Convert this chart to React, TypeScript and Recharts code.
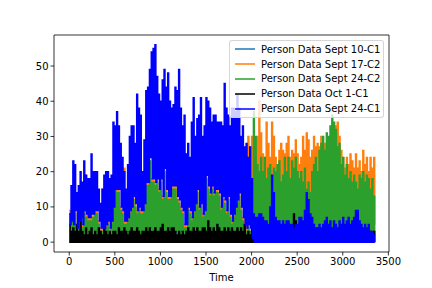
import { Legend, Line, LineChart, ReferenceLine, XAxis, YAxis } from "recharts";

const step = 20;

const sept10High = [3,4,3,2,3,2,3,2,3,3,2,3,2,3,2,3,2,2,3,2,3,2,3,2,3,2,3,2,2,3,2,3,2,3,2,3,2,3,2,3,3,4,3,3,4,3,3,2,3,3,4,3,3,2,3,3,4,3,3,2,3,3,2,4,3,3,2,3,3,2,3,4,3,2,3,3,2,3,3,4,3,2,3,3,2,3,3,4,3,3,2,3,3,4,4,5,4,3,4,3];
const sept10Low = [0,1,0,0,1,0,1,0,0,1,0,0,1,0,1,0,0,1,0,0,1,0,0,1,0,1,0,0,1,0,1,0,0,1,0,0,1,0,1,0,0,1,0,1,0,0,1,0,0,1,0,1,0,0,1,0,0,1,0,1,0,0,1,0,0,1,0,1,0,0,1,0,0,1,0,1,0,0,1,0,0,1,0,1,0,0,1,0,0,1,0,1,0,0,1,0,0,1,0,0];

const sept17High = [9,9,8,9,5,6,7,5,9,19,10,7,7,8,9,9,6,4,15,4,5,6,4,6,10,16,19,15,10,9,21,6,7,9,10,13,11,9,10,9,9,11,17,17,23,18,25,17,18,15,18,13,21,19,13,13,16,16,16,18,12,10,9,5,5,10,9,7,9,11,15,10,11,8,9,19,16,14,16,14,15,15,14,10,13,12,9,13,8,6,8,10,12,14,10,7,20,24,30,27,30,26,28,30,40,31,25,24,34,28,24,34,30,24,22,26,28,26,25,28,30,24,26,25,29,25,22,24,30,26,31,29,24,26,30,27,28,27,30,26,28,27,26,27,30,28,33,34,30,26,24,21,24,22,25,23,21,25,21,23,20,26,22,24,20,24,21,24];
const sept17Low = [1,2,1,2,1,2,1,2,2,3,2,1,2,2,1,2,1,1,2,1,1,2,1,2,2,3,2,3,2,2,1,2,1,2,2,3,2,2,3,2,3,2,4,3,4,3,4,3,4,3,4,3,4,3,3,4,3,3,4,3,2,2,3,2,2,3,2,2,3,3,4,3,2,3,3,4,3,3,4,3,3,2,3,3,2,3,2,3,2,2,3,2,3,2,2,3,2,3,4,6,8,7,9,7,10,8,9,7,6,9,8,10,7,9,8,7,10,8,9,6,8,10,7,9,8,10,9,7,8,10,9,7,8,6,9,5,8,7,4,6,8,10,9,12,8,10,9,7,11,8,9,6,8,7,9,6,8,7,9,6,8,7,6,8,7,6,8,5];

const sept24C2High = [8,8,7,8,4,5,6,4,8,7,6,6,6,7,8,8,5,3,3,3,4,5,3,5,9,15,14,14,9,8,5,5,6,8,9,12,10,8,9,8,8,10,16,16,23,17,17,16,17,14,17,12,20,14,12,12,15,15,15,12,11,9,8,4,4,9,8,6,8,10,14,9,10,7,8,18,15,13,15,13,14,14,13,9,12,11,8,12,7,5,7,9,11,13,9,6,4,3,4,3,15,37,30,22,20,24,20,24,18,21,22,18,21,20,22,23,17,19,24,20,24,18,23,21,24,20,18,20,17,21,15,17,14,20,22,24,20,26,28,30,26,31,30,33,36,34,32,27,28,22,24,19,22,18,20,17,19,17,15,19,18,20,17,19,18,15,18,13];
const sept24C2Low = [0,1,1,2,1,1,2,1,1,2,1,1,2,1,1,2,1,1,1,2,1,1,2,1,2,2,1,2,1,2,1,1,2,1,2,1,2,1,2,2,3,2,3,3,4,3,3,2,3,3,2,3,3,2,3,3,2,3,3,2,2,3,2,2,3,2,2,3,2,3,3,2,3,2,3,3,2,3,3,2,3,2,3,2,3,2,3,2,3,2,3,2,3,2,2,3,2,1,2,1,2,3,3,2,3,3,2,3,3,2,3,3,2,3,3,2,3,3,2,3,3,2,3,3,2,3,3,2,3,3,2,3,3,2,3,3,4,3,3,4,3,2,3,2,3,3,2,3,3,2,3,3,2,3,3,2,3,3,2,3,3,2,3,3,2,3,2,2];

const oct1High = [5,3,4,3,5,3,8,3,2,4,2,3,4,2,3,2,4,3,2,6,3,2,3,2,3,3,2,4,3,3,4,3,2,3,4,3,3,4,3,2,3,3,4,3,4,3,3,4,3,3,4,5,3,3,4,3,4,4,3,2,3,2,3,2,3,4,3,3,4,3,4,3,3,4,4,3,6,4,3,4,3,5,4,3,3,4,3,4,3,4,3,3,4,3,4,3,5,2,3,2,4,2,3,2,3,2,3,2,4,3,2,3,3,6,3,2,3,3,2,3,4,2,3,8,6,3,2,3,3,2,4,5,3,3,2,3,4,2,3,3,2,3,3,4,3,2,3,2,4,3,3,2,3,3,2,3,2,3,3,2,3,2,3,3,2,3,2,3];
const oct1Low = [0,0,0,0,0,0,0,0,0,0,0,0,0,0,0,0,0,0,0,0,0,0,0,0,0,0,0,0,0,0,0,0,0,0,0,0,0,0,0,0,0,0,0,0,0,0,0,0,0,0,0,0,0,0,0,0,0,0,0,0,0,0,0,0,0,0,0,0,0,0,0,0,0,0,0,0,0,0,0,0,0,0,0,0,0,0,0,0,0,0,0,0,0,0,0,0,0,0,0,0,0,0,0,0,0,0,0,0,0,0,0,0,0,0,0,0,0,0,0,0,0,0,0,0,0,0,0,0,0,0,0,0,0,0,0,0,0,0,0,0,0,0,0,0,0,0,0,0,0,0,0,0,0,0,0,0,0,0,0,0,0,0,0,0,0,0,0,0];

const sept24C1High = [8,16,23,22,14,16,20,17,23,19,18,18,25,20,20,20,15,11,15,19,20,20,18,19,34,33,37,33,28,24,20,15,22,30,33,33,28,42,38,36,20,29,43,44,49,54,55,56,47,42,40,46,49,44,48,40,38,39,44,43,49,38,33,36,25,28,24,34,41,30,35,36,41,30,33,41,40,38,34,36,36,34,34,34,33,45,38,36,33,38,38,37,42,38,30,33,27,28,24,27,18,8,7,7,8,8,7,6,6,5,10,19,14,7,6,6,5,6,5,6,6,5,5,4,5,5,7,7,6,9,14,12,8,7,5,4,4,5,4,5,6,7,5,6,4,6,5,4,6,5,7,5,6,7,5,6,7,9,9,6,5,4,5,4,5,3,3,2];
const sept24C1Low = [5,6,5,9,4,6,7,5,9,8,7,7,8,8,9,9,6,4,4,4,5,6,4,6,10,15,15,15,10,9,6,6,7,9,10,13,11,9,10,9,9,11,17,17,24,18,18,17,18,15,18,13,21,15,13,13,16,16,16,13,12,10,9,5,5,10,9,7,9,11,15,10,11,8,9,19,16,14,16,14,15,15,14,10,13,12,9,13,8,6,8,10,12,14,10,7,5,4,5,4,1,0,0,0,0,0,0,0,0,0,0,0,0,0,0,0,0,0,0,0,0,0,0,0,0,0,0,0,0,0,0,0,0,0,0,0,0,0,0,0,0,0,0,0,0,0,0,0,0,0,0,0,0,0,0,0,0,0,0,0,0,0,0,0,0,0,0,0];

const xTicks = [0, 500, 1000, 1500, 2000, 2500, 3000, 3500];
const yTicks = [0, 10, 20, 30, 40, 50];
const xDomain = [-167, 3507];
const yDomain = [-2.8, 58.8];

const series = [
  { key: "sept10", name: "Person Data Sept 10-C1", color: "#1f77b4", high: sept10High, low: sept10Low },
  { key: "sept17", name: "Person Data Sept 17-C2", color: "#ff7f0e", high: sept17High, low: sept17Low },
  { key: "sept24c2", name: "Person Data Sept 24-C2", color: "#2ca02c", high: sept24C2High, low: sept24C2Low },
  { key: "oct1", name: "Person Data Oct 1-C1", color: "#000000", high: oct1High, low: oct1Low },
  { key: "sept24c1", name: "Person Data Sept 24-C1", color: "#0000ff", high: sept24C1High, low: sept24C1Low },
];

const chartData = sept17High.flatMap((_, i) => {
  const peak: Record<string, number> = { time: i * step };
  const trough: Record<string, number> = { time: i * step + step / 2 };
  series.forEach((s) => {
    if (i < s.high.length) {
      peak[s.key] = s.high[i];
      trough[s.key] = s.low[i];
    }
  });
  return [peak, trough];
});

const tickStyle = { fill: "#000", fontSize: 10 };
const spine = { stroke: "#000", strokeWidth: 0.8 };

function LegendBox() {
  return (
    <div
      style={{
        boxSizing: "border-box",
        width: 155,
        height: 78,
        padding: "1px 0 0 5px",
        background: "rgba(255,255,255,0.8)",
        border: "1px solid rgba(204,204,204,0.8)",
        borderRadius: 3,
        fontSize: 10,
        color: "#000",
      }}
    >
      {series.map((s) => (
        <div key={s.key} style={{ display: "flex", alignItems: "center", height: 14.8 }}>
          <div style={{ width: 20, height: 2, background: s.color, opacity: 0.75, marginRight: 6 }} />
          <span style={{ whiteSpace: "nowrap" }}>{s.name}</span>
        </div>
      ))}
    </div>
  );
}

export default function App() {
  return (
    <div style={{ position: "absolute", left: 0, top: 0, fontFamily: "'DejaVu Sans', sans-serif" }}>
      <LineChart
        width={432}
        height={288}
        data={chartData}
        margin={{ top: 35, right: 43, bottom: 0, left: 0 }}
      >
        <XAxis
          dataKey="time"
          type="number"
          domain={xDomain}
          ticks={xTicks}
          interval={0}
          allowDataOverflow
          tick={tickStyle}
          tickSize={3.5}
          tickLine={spine}
          axisLine={spine}
          height={36}
          label={{ value: "Time", position: "insideBottom", offset: 7, fill: "#000", fontSize: 10 }}
        />
        <YAxis
          type="number"
          domain={yDomain}
          ticks={yTicks}
          interval={0}
          allowDataOverflow
          tick={tickStyle}
          tickSize={3.5}
          tickLine={spine}
          axisLine={spine}
          width={54}
        />
        {series.map((s) => (
          <Line
            key={s.key}
            dataKey={s.key}
            name={s.name}
            stroke={s.color}
            strokeWidth={1.5}
            dot={false}
            activeDot={false}
            type="stepAfter"
            isAnimationActive={false}
          />
        ))}
        <ReferenceLine y={yDomain[1]} {...spine} />
        <ReferenceLine x={xDomain[1]} {...spine} />
        <Legend
          content={<LegendBox />}
          layout="horizontal"
          align="center"
          verticalAlign="middle"
          wrapperStyle={{ position: "absolute", left: 229, top: 40, width: 155, height: 78 }}
        />
      </LineChart>
    </div>
  );
}
